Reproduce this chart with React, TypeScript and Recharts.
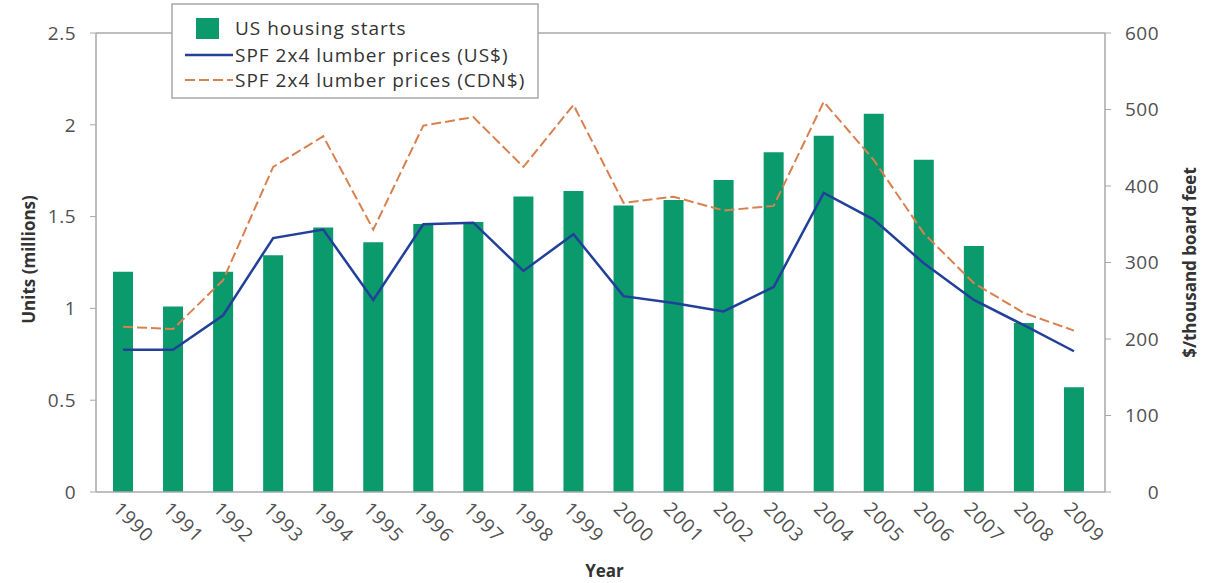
import React from "react";
import {
  ComposedChart,
  Bar,
  Line,
  XAxis,
  YAxis,
  ReferenceLine,
} from "recharts";

const YEARS = [
  "1990", "1991", "1992", "1993", "1994", "1995", "1996", "1997", "1998", "1999",
  "2000", "2001", "2002", "2003", "2004", "2005", "2006", "2007", "2008", "2009",
];

// US housing starts, millions of units
const HOUSING_STARTS = [
  1.2, 1.01, 1.2, 1.29, 1.44, 1.36, 1.46, 1.47, 1.61, 1.64,
  1.56, 1.59, 1.7, 1.85, 1.94, 2.06, 1.81, 1.34, 0.92, 0.57,
];

// SPF 2x4 lumber, $ per thousand board feet
const LUMBER_US = [
  186, 186, 231, 332, 343, 251, 350, 352, 289, 337,
  256, 247, 236, 268, 391, 356, 299, 251, 218, 184,
];
const LUMBER_CDN = [
  216, 213, 277, 425, 465, 343, 479, 490, 425, 506,
  378, 386, 368, 374, 510, 434, 338, 273, 234, 211,
];

const LEFT_TICKS = [0, 0.5, 1, 1.5, 2, 2.5];
const RIGHT_TICKS = [0, 100, 200, 300, 400, 500, 600];

const GREEN = "#0a9a6c";
const BLUE = "#22409a";
const ORANGE = "#d9804f";
const AXIS = "#a8a8a8";
const TICK_TEXT = "#505050";
const FONT = "'Open Sans', sans-serif";

const data = YEARS.map((year, i) => ({
  year,
  starts: HOUSING_STARTS[i],
  us: LUMBER_US[i],
  cdn: LUMBER_CDN[i],
}));

const tickText = {
  fill: TICK_TEXT,
  fontSize: 19,
  fontFamily: FONT,
  letterSpacing: 0.5,
};

const LeftTick = ({ x, y, payload }: any) => (
  <text x={x - 12} y={y} dy="0.36em" textAnchor="end" {...tickText}>
    {payload.value}
  </text>
);

const RightTick = ({ x, y, payload }: any) => (
  <text x={x + 46} y={y} dy="0.36em" textAnchor="end" {...tickText}>
    {payload.value}
  </text>
);

const YearTick = ({ x, y, payload }: any) => {
  const tx = x - 11;
  const ty = y + 10;
  return (
    <text
      x={tx}
      y={ty}
      transform={`rotate(45, ${tx}, ${ty})`}
      textAnchor="start"
      {...tickText}
      letterSpacing={1}
    >
      {payload.value}
    </text>
  );
};

const titleStyle = {
  fill: "#333",
  fontSize: 17,
  fontWeight: 700,
  fontFamily: FONT,
};

function ChartLegend() {
  return (
    <svg
      width={368}
      height={96}
      style={{ position: "absolute", left: 171, top: 3 }}
    >
      <rect x={1} y={1} width={366} height={94} fill="#fff" stroke={AXIS} strokeWidth={1.5} />
      <rect x={25} y={15} width={23} height={21} fill={GREEN} />
      <line x1={14} y1={52} x2={62} y2={52} stroke={BLUE} strokeWidth={2.5} />
      <line x1={14} y1={77} x2={62} y2={77} stroke={ORANGE} strokeWidth={2} strokeDasharray="10 4" />
      <g fill="#333" fontSize={19} fontFamily={FONT} letterSpacing={1}>
        <text x={64} y={25} dy="0.36em">US housing starts</text>
        <text x={64} y={52} dy="0.36em">SPF 2x4 lumber prices (US$)</text>
        <text x={64} y={77} dy="0.36em">SPF 2x4 lumber prices (CDN$)</text>
      </g>
    </svg>
  );
}

export default function App() {
  return (
    <div style={{ position: "absolute", left: 0, top: 0, width: 1212, height: 583, background: "#fff" }}>
      <ComposedChart
        width={1212}
        height={583}
        data={data}
        margin={{ top: 33, right: 0, bottom: 0, left: 0 }}
        barCategoryGap={0}
      >
        <XAxis
          dataKey="year"
          height={91}
          interval={0}
          padding={{ left: 2, right: 6 }}
          axisLine={{ stroke: AXIS, strokeWidth: 1.5 }}
          tickLine={false}
          tick={<YearTick />}
          label={({ viewBox }: any) => (
            <text x={viewBox.x + viewBox.width / 2 + 4} y={viewBox.y + 85} textAnchor="middle" {...titleStyle}>
              Year
            </text>
          )}
        />
        <YAxis
          yAxisId="left"
          width={96}
          domain={[0, 2.5]}
          ticks={LEFT_TICKS}
          tickSize={6}
          axisLine={{ stroke: AXIS, strokeWidth: 1.5 }}
          tickLine={{ stroke: AXIS }}
          tick={<LeftTick />}
          label={({ viewBox }: any) => {
            const cx = viewBox.x + 28;
            const cy = viewBox.y + viewBox.height / 2 - 3;
            return (
              <text x={cx} y={cy} textAnchor="middle" dominantBaseline="central" transform={`rotate(-90, ${cx}, ${cy})`} {...titleStyle}>
                Units (millions)
              </text>
            );
          }}
        />
        <YAxis
          yAxisId="right"
          orientation="right"
          width={107}
          domain={[0, 600]}
          ticks={RIGHT_TICKS}
          tickSize={6}
          axisLine={{ stroke: AXIS, strokeWidth: 1.5 }}
          tickLine={{ stroke: AXIS }}
          tick={<RightTick />}
          label={({ viewBox }: any) => {
            const cx = viewBox.x + 84;
            const cy = viewBox.y + viewBox.height / 2;
            return (
              <text x={cx} y={cy} textAnchor="middle" dominantBaseline="central" transform={`rotate(-90, ${cx}, ${cy})`} {...titleStyle}>
                $/thousand board feet
              </text>
            );
          }}
        />
        <ReferenceLine yAxisId="left" y={2.5} stroke={AXIS} strokeWidth={1.5} />
        <Bar yAxisId="left" dataKey="starts" fill={GREEN} barSize={20} isAnimationActive={false} />
        <Line
          yAxisId="right"
          type="linear"
          dataKey="cdn"
          stroke={ORANGE}
          strokeWidth={2}
          strokeDasharray="10 4"
          dot={false}
          isAnimationActive={false}
        />
        <Line
          yAxisId="right"
          type="linear"
          dataKey="us"
          stroke={BLUE}
          strokeWidth={2.5}
          dot={false}
          isAnimationActive={false}
        />
      </ComposedChart>
      <ChartLegend />
    </div>
  );
}
